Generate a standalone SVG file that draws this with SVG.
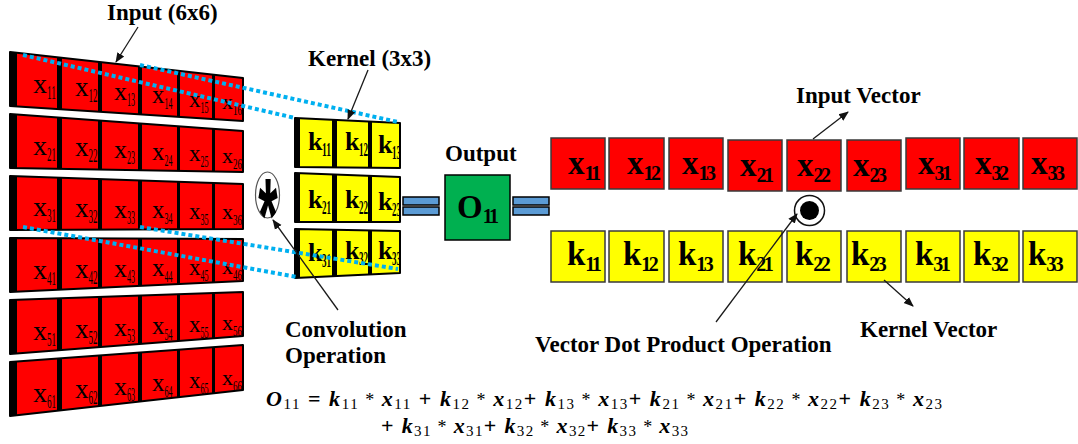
<svg xmlns="http://www.w3.org/2000/svg" width="1078" height="444" viewBox="0 0 1078 444">
<style>
.lbl{font-family:"Liberation Serif","Times New Roman",serif;font-weight:bold;font-size:23px;fill:#000}
.it{font-family:"Liberation Serif","Times New Roman",serif;fill:#000}
.c1{font-size:28px}.c2{font-size:27px}.c3{font-size:26px}.c4{font-size:25px}.c5{font-size:23px}.c6{font-size:22px}
.s1{font-size:19px}.s2{font-size:18px}.s3{font-size:18px}.s4{font-size:17px}.s5{font-size:16px}.s6{font-size:15px}
.kt{font-family:"Liberation Serif","Times New Roman",serif;font-weight:bold;font-size:26px;fill:#000}
.ks{font-family:"Liberation Serif","Times New Roman",serif;font-weight:bold;font-size:18px;fill:#000}
.vl{font-family:"Liberation Serif","Times New Roman",serif;font-weight:bold;font-size:33px;fill:#000}
.vs{font-size:20px;letter-spacing:-2.5px}
.rb{fill:#FF0000;stroke:#3a3a3a;stroke-width:1.5}
.yb{fill:#FFFF00;stroke:#3a3a3a;stroke-width:1.5}
.row{fill:none;stroke:#000;stroke-width:2;stroke-linejoin:round}
.eqb{fill:#5B9BD5;stroke:#000;stroke-width:1.5}
.arr{stroke:#1a1a1a;stroke-width:1.3;fill:none;marker-end:url(#ah)}
.dot{stroke:#00B0F0;stroke-width:4;stroke-dasharray:4 3;fill:none}
.eq{font-family:"Liberation Serif","Times New Roman",serif;font-size:22px;fill:#000}
.fv{font-style:italic;font-weight:bold}
.fs{font-size:15px}
.fo{font-weight:bold}
.fa{font-size:18px}
</style>
<defs>
<marker id="ah" viewBox="0 0 10 10" refX="9" refY="5" markerWidth="10" markerHeight="10" markerUnits="userSpaceOnUse" orient="auto"><path d="M0,1 L10,5 L0,9 z" fill="#111"/></marker>
<clipPath id="inClip">
<polygon points="10,52 243,78 243,121 10,106"/>
<polygon points="10,114 243,131 243,172 10,168"/>
<polygon points="10,176 243,184 243,229 10,230"/>
<polygon points="10,238 243,239 243,281 10,292"/>
<polygon points="10,300 243,292 243,336 10,354"/>
<polygon points="10,362 243,345 243,390 10,416"/>
</clipPath>
<clipPath id="kClip">
<polygon points="295,118 400,123 400,168 295,167"/>
<polygon points="295,173 400,177 400,222 295,222"/>
<polygon points="295,229 400,231 400,273 295,278"/>
</clipPath>
</defs>
<rect width="1078" height="444" fill="#fff"/>

<g id="input-matrix">
<g clip-path="url(#inClip)">
<rect x="8" y="40" width="237" height="380" fill="#FF0000"/>
<rect x="10" y="40" width="7" height="380" fill="#000"/>
<rect x="57" y="40" width="5" height="380" fill="#000"/>
<rect x="98" y="40" width="4" height="380" fill="#000"/>
<rect x="138" y="40" width="4" height="380" fill="#000"/>
<rect x="177" y="40" width="3" height="380" fill="#000"/>
<rect x="212" y="40" width="3" height="380" fill="#000"/>
<g class="it">
<text class="c1" x="33" y="93">x</text><text class="s1" x="47" y="99" textLength="9" lengthAdjust="spacingAndGlyphs">11</text>
<text class="c2" x="75" y="96">x</text><text class="s2" x="88.5" y="102" textLength="9" lengthAdjust="spacingAndGlyphs">12</text>
<text class="c3" x="114" y="100">x</text><text class="s3" x="127" y="106" textLength="8" lengthAdjust="spacingAndGlyphs">13</text>
<text class="c4" x="152" y="103">x</text><text class="s4" x="164.5" y="109" textLength="8" lengthAdjust="spacingAndGlyphs">14</text>
<text class="c5" x="189" y="107">x</text><text class="s5" x="200.5" y="113" textLength="8" lengthAdjust="spacingAndGlyphs">15</text>
<text class="c6" x="222" y="109">x</text><text class="s6" x="233" y="115" textLength="9" lengthAdjust="spacingAndGlyphs">16</text>
<text class="c1" x="33" y="155">x</text><text class="s1" x="47" y="161" textLength="9" lengthAdjust="spacingAndGlyphs">21</text>
<text class="c2" x="75" y="156">x</text><text class="s2" x="88.5" y="162" textLength="9" lengthAdjust="spacingAndGlyphs">22</text>
<text class="c3" x="114" y="158">x</text><text class="s3" x="127" y="164" textLength="8" lengthAdjust="spacingAndGlyphs">23</text>
<text class="c4" x="152" y="160">x</text><text class="s4" x="164.5" y="166" textLength="8" lengthAdjust="spacingAndGlyphs">24</text>
<text class="c5" x="189" y="161">x</text><text class="s5" x="200.5" y="167" textLength="8" lengthAdjust="spacingAndGlyphs">25</text>
<text class="c6" x="222" y="163">x</text><text class="s6" x="233" y="169" textLength="9" lengthAdjust="spacingAndGlyphs">26</text>
<text class="c1" x="33" y="216">x</text><text class="s1" x="47" y="222" textLength="9" lengthAdjust="spacingAndGlyphs">31</text>
<text class="c2" x="75" y="217">x</text><text class="s2" x="88.5" y="223" textLength="9" lengthAdjust="spacingAndGlyphs">32</text>
<text class="c3" x="114" y="218">x</text><text class="s3" x="127" y="224" textLength="8" lengthAdjust="spacingAndGlyphs">33</text>
<text class="c4" x="152" y="218">x</text><text class="s4" x="164.5" y="224" textLength="8" lengthAdjust="spacingAndGlyphs">34</text>
<text class="c5" x="189" y="219">x</text><text class="s5" x="200.5" y="225" textLength="8" lengthAdjust="spacingAndGlyphs">35</text>
<text class="c6" x="222" y="219">x</text><text class="s6" x="233" y="225" textLength="9" lengthAdjust="spacingAndGlyphs">36</text>
<text class="c1" x="33" y="279">x</text><text class="s1" x="47" y="285" textLength="9" lengthAdjust="spacingAndGlyphs">41</text>
<text class="c2" x="75" y="278">x</text><text class="s2" x="88.5" y="284" textLength="9" lengthAdjust="spacingAndGlyphs">42</text>
<text class="c3" x="114" y="277">x</text><text class="s3" x="127" y="283" textLength="8" lengthAdjust="spacingAndGlyphs">43</text>
<text class="c4" x="152" y="276">x</text><text class="s4" x="164.5" y="282" textLength="8" lengthAdjust="spacingAndGlyphs">44</text>
<text class="c5" x="189" y="275">x</text><text class="s5" x="200.5" y="281" textLength="8" lengthAdjust="spacingAndGlyphs">45</text>
<text class="c6" x="222" y="274">x</text><text class="s6" x="233" y="280" textLength="9" lengthAdjust="spacingAndGlyphs">46</text>
<text class="c1" x="33" y="340">x</text><text class="s1" x="47" y="346" textLength="9" lengthAdjust="spacingAndGlyphs">51</text>
<text class="c2" x="75" y="338">x</text><text class="s2" x="88.5" y="344" textLength="9" lengthAdjust="spacingAndGlyphs">52</text>
<text class="c3" x="114" y="336">x</text><text class="s3" x="127" y="342" textLength="8" lengthAdjust="spacingAndGlyphs">53</text>
<text class="c4" x="152" y="334">x</text><text class="s4" x="164.5" y="340" textLength="8" lengthAdjust="spacingAndGlyphs">54</text>
<text class="c5" x="189" y="332">x</text><text class="s5" x="200.5" y="338" textLength="8" lengthAdjust="spacingAndGlyphs">55</text>
<text class="c6" x="222" y="330">x</text><text class="s6" x="233" y="336" textLength="9" lengthAdjust="spacingAndGlyphs">56</text>
<text class="c1" x="33" y="402">x</text><text class="s1" x="47" y="408" textLength="9" lengthAdjust="spacingAndGlyphs">61</text>
<text class="c2" x="75" y="398">x</text><text class="s2" x="88.5" y="404" textLength="9" lengthAdjust="spacingAndGlyphs">62</text>
<text class="c3" x="114" y="395">x</text><text class="s3" x="127" y="401" textLength="8" lengthAdjust="spacingAndGlyphs">63</text>
<text class="c4" x="152" y="391">x</text><text class="s4" x="164.5" y="397" textLength="8" lengthAdjust="spacingAndGlyphs">64</text>
<text class="c5" x="189" y="388">x</text><text class="s5" x="200.5" y="394" textLength="8" lengthAdjust="spacingAndGlyphs">65</text>
<text class="c6" x="222" y="385">x</text><text class="s6" x="233" y="391" textLength="9" lengthAdjust="spacingAndGlyphs">66</text>
</g>
</g>
<polygon class="row" points="10,52 243,78 243,121 10,106"/>
<polygon class="row" points="10,114 243,131 243,172 10,168"/>
<polygon class="row" points="10,176 243,184 243,229 10,230"/>
<polygon class="row" points="10,238 243,239 243,281 10,292"/>
<polygon class="row" points="10,300 243,292 243,336 10,354"/>
<polygon class="row" points="10,362 243,345 243,390 10,416"/>
</g>

<g id="kernel">
<g clip-path="url(#kClip)">
<rect x="293" y="110" width="110" height="175" fill="#FFFF00"/>
<rect x="295" y="110" width="5" height="175" fill="#000"/>
<rect x="332" y="110" width="5" height="175" fill="#000"/>
<rect x="368" y="110" width="4" height="175" fill="#000"/>
<text class="kt" x="308" y="150">k</text><text class="ks" x="322" y="156" textLength="9" lengthAdjust="spacingAndGlyphs">11</text>
<text class="kt" x="345" y="150">k</text><text class="ks" x="359" y="156" textLength="9" lengthAdjust="spacingAndGlyphs">12</text>
<text class="kt" x="378" y="153">k</text><text class="ks" x="392" y="159" textLength="9" lengthAdjust="spacingAndGlyphs">13</text>
<text class="kt" x="308" y="208">k</text><text class="ks" x="322" y="214" textLength="9" lengthAdjust="spacingAndGlyphs">21</text>
<text class="kt" x="345" y="208">k</text><text class="ks" x="359" y="214" textLength="9" lengthAdjust="spacingAndGlyphs">22</text>
<text class="kt" x="378" y="210">k</text><text class="ks" x="392" y="216" textLength="9" lengthAdjust="spacingAndGlyphs">23</text>
<text class="kt" x="308" y="261">k</text><text class="ks" x="322" y="267" textLength="9" lengthAdjust="spacingAndGlyphs">31</text>
<text class="kt" x="345" y="259">k</text><text class="ks" x="359" y="265" textLength="9" lengthAdjust="spacingAndGlyphs">32</text>
<text class="kt" x="378" y="259">k</text><text class="ks" x="392" y="265" textLength="9" lengthAdjust="spacingAndGlyphs">33</text>
</g>
<polygon class="row" points="295,118 400,123 400,168 295,167"/>
<polygon class="row" points="295,173 400,177 400,222 295,222"/>
<polygon class="row" points="295,229 400,231 400,273 295,278"/>
</g>

<g id="conv-op">
<ellipse cx="267.5" cy="195" rx="12" ry="23" fill="#fff" stroke="#555" stroke-width="1.2"/>
<text transform="translate(268,195) scale(1,2.1)" x="0" y="27" text-anchor="middle" font-family="Liberation Sans, Arial, sans-serif" font-weight="bold" font-size="50" fill="#000">*</text>
</g>

<g id="eq1">
<rect class="eqb" x="403" y="197" width="36" height="8"/>
<rect class="eqb" x="403" y="207" width="36" height="8"/>
</g>

<g id="output">
<rect x="445" y="175" width="65" height="65" fill="#00B050" stroke="#000" stroke-width="1.5"/>
<text class="vl" x="457" y="218" font-size="30">O<tspan class="vs" dy="5" font-size="19">11</tspan></text>
</g>

<g id="eq2">
<rect class="eqb" x="513" y="197" width="36" height="8"/>
<rect class="eqb" x="513" y="207" width="36" height="8"/>
</g>

<g id="input-vector">
<rect class="rb" x="551" y="138" width="54" height="51"/>
<rect class="rb" x="609" y="138" width="55" height="51"/>
<rect class="rb" x="669" y="138" width="54" height="51"/>
<rect class="rb" x="728" y="140" width="54" height="51"/>
<rect class="rb" x="787" y="140" width="54" height="51"/>
<rect class="rb" x="847" y="140" width="54" height="51"/>
<rect class="rb" x="906" y="138" width="54" height="51"/>
<rect class="rb" x="964" y="138" width="55" height="51"/>
<rect class="rb" x="1023" y="138" width="54" height="51"/>
<text class="vl" x="568" y="174">x<tspan class="vs" dy="6">11</tspan></text>
<text class="vl" x="627" y="174">x<tspan class="vs" dy="6">12</tspan></text>
<text class="vl" x="682" y="174">x<tspan class="vs" dy="6">13</tspan></text>
<text class="vl" x="740" y="176">x<tspan class="vs" dy="6">21</tspan></text>
<text class="vl" x="797" y="176">x<tspan class="vs" dy="6">22</tspan></text>
<text class="vl" x="853" y="176">x<tspan class="vs" dy="6">23</tspan></text>
<text class="vl" x="918" y="174">x<tspan class="vs" dy="6">31</tspan></text>
<text class="vl" x="975" y="174">x<tspan class="vs" dy="6">32</tspan></text>
<text class="vl" x="1031" y="174">x<tspan class="vs" dy="6">33</tspan></text>
</g>

<g id="kernel-vector">
<rect class="yb" x="551" y="231" width="54" height="51"/>
<rect class="yb" x="609" y="231" width="55" height="51"/>
<rect class="yb" x="669" y="231" width="54" height="51"/>
<rect class="yb" x="728" y="231" width="54" height="51"/>
<rect class="yb" x="787" y="231" width="54" height="51"/>
<rect class="yb" x="847" y="231" width="54" height="51"/>
<rect class="yb" x="906" y="231" width="54" height="51"/>
<rect class="yb" x="964" y="231" width="55" height="51"/>
<rect class="yb" x="1023" y="231" width="54" height="51"/>
<text class="vl" x="567" y="265">k<tspan class="vs" dy="6">11</tspan></text>
<text class="vl" x="623" y="265">k<tspan class="vs" dy="6">12</tspan></text>
<text class="vl" x="678" y="265">k<tspan class="vs" dy="6">13</tspan></text>
<text class="vl" x="738" y="265">k<tspan class="vs" dy="6">21</tspan></text>
<text class="vl" x="795" y="265">k<tspan class="vs" dy="6">22</tspan></text>
<text class="vl" x="851" y="265">k<tspan class="vs" dy="6">23</tspan></text>
<text class="vl" x="915" y="265">k<tspan class="vs" dy="6">31</tspan></text>
<text class="vl" x="973" y="265">k<tspan class="vs" dy="6">32</tspan></text>
<text class="vl" x="1028" y="265">k<tspan class="vs" dy="6">33</tspan></text>
</g>

<g id="dot-op">
<circle cx="809.5" cy="210.5" r="15" fill="#fff" stroke="#111" stroke-width="1.5"/>
<circle cx="809.5" cy="210.5" r="9.5" fill="#000"/>
</g>

<g id="labels">
<text class="lbl" x="107" y="20">Input (6x6)</text>
<text class="lbl" x="308" y="66">Kernel (3x3)</text>
<text class="lbl" x="445" y="161">Output</text>
<text class="lbl" x="796" y="103">Input Vector</text>
<text class="lbl" x="285" y="337">Convolution</text>
<text class="lbl" x="285" y="363">Operation</text>
<text class="lbl" x="535" y="352">Vector Dot Product Operation</text>
<text class="lbl" x="860" y="337">Kernel Vector</text>
</g>

<g id="formula">
<text class="eq" x="266" y="406" textLength="676" lengthAdjust="spacing"><tspan class="fv">O</tspan><tspan class="fs" dy="3">11</tspan><tspan class="fo" dy="-3"> = </tspan><tspan class="fv">k</tspan><tspan class="fs" dy="3">11</tspan><tspan class="fa" dy="-3"> * </tspan><tspan class="fv">x</tspan><tspan class="fs" dy="3">11</tspan><tspan class="fo" dy="-3"> + </tspan><tspan class="fv">k</tspan><tspan class="fs" dy="3">12</tspan><tspan class="fa" dy="-3"> * </tspan><tspan class="fv">x</tspan><tspan class="fs" dy="3">12</tspan><tspan class="fo" dy="-3">+ </tspan><tspan class="fv">k</tspan><tspan class="fs" dy="3">13</tspan><tspan class="fa" dy="-3"> * </tspan><tspan class="fv">x</tspan><tspan class="fs" dy="3">13</tspan><tspan class="fo" dy="-3">+ </tspan><tspan class="fv">k</tspan><tspan class="fs" dy="3">21</tspan><tspan class="fa" dy="-3"> * </tspan><tspan class="fv">x</tspan><tspan class="fs" dy="3">21</tspan><tspan class="fo" dy="-3">+ </tspan><tspan class="fv">k</tspan><tspan class="fs" dy="3">22</tspan><tspan class="fa" dy="-3"> * </tspan><tspan class="fv">x</tspan><tspan class="fs" dy="3">22</tspan><tspan class="fo" dy="-3">+ </tspan><tspan class="fv">k</tspan><tspan class="fs" dy="3">23</tspan><tspan class="fa" dy="-3"> * </tspan><tspan class="fv">x</tspan><tspan class="fs" dy="3">23</tspan></text>
<text class="eq" x="381" y="433" textLength="307" lengthAdjust="spacing"><tspan class="fo">+ </tspan><tspan class="fv">k</tspan><tspan class="fs" dy="3">31</tspan><tspan class="fa" dy="-3"> * </tspan><tspan class="fv">x</tspan><tspan class="fs" dy="3">31</tspan><tspan class="fo" dy="-3">+ </tspan><tspan class="fv">k</tspan><tspan class="fs" dy="3">32</tspan><tspan class="fa" dy="-3"> * </tspan><tspan class="fv">x</tspan><tspan class="fs" dy="3">32</tspan><tspan class="fo" dy="-3">+ </tspan><tspan class="fv">k</tspan><tspan class="fs" dy="3">33</tspan><tspan class="fa" dy="-3"> * </tspan><tspan class="fv">x</tspan><tspan class="fs" dy="3">33</tspan></text>
</g>

<g id="connectors">
<line class="dot" x1="23" y1="55" x2="295" y2="118"/>
<line class="dot" x1="140" y1="65" x2="398" y2="122"/>
<line class="dot" x1="23" y1="227" x2="297" y2="277"/>
<line class="dot" x1="140" y1="227" x2="398" y2="269"/>
<line class="arr" x1="138" y1="27" x2="116" y2="62"/>
<line class="arr" x1="368" y1="70" x2="348" y2="119"/>
<line class="arr" x1="338" y1="310" x2="273" y2="220"/>
<line class="arr" x1="813" y1="139" x2="848" y2="112"/>
<line class="arr" x1="716" y1="322" x2="797" y2="214"/>
<line class="arr" x1="884" y1="280" x2="913" y2="306"/>
</g>
</svg>
